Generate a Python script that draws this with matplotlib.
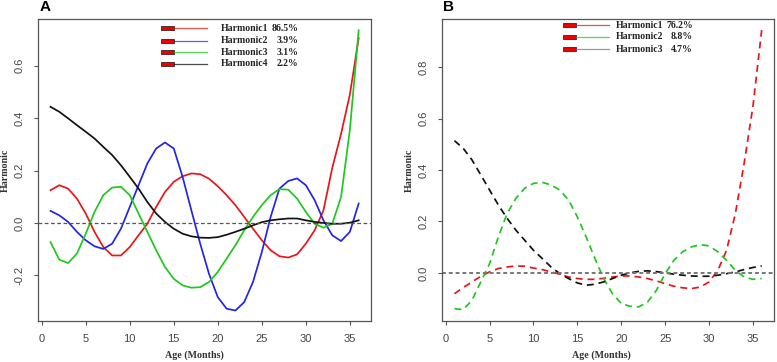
"""
Harmonic curves by age, two panels (A: solid, B: dashed).
Saves to out.png
"""

import numpy as np
import matplotlib.pyplot as plt
from matplotlib.lines import Line2D
from matplotlib.patches import Rectangle

# Data
months = list(range(1, 37))

a_h1 = [0.125, 0.144, 0.131, 0.093, 0.036, -0.034, -0.092, -0.124, -0.124, -0.092,
        -0.047, -0.003, 0.061, 0.118, 0.157, 0.178, 0.189, 0.186, 0.169, 0.140,
        0.106, 0.068, 0.023, -0.022, -0.066, -0.104, -0.127, -0.132, -0.120, -0.079,
        -0.028, 0.048, 0.210, 0.340, 0.490, 0.705]
a_h2 = [0.046, 0.029, 0.004, -0.034, -0.066, -0.089, -0.099, -0.079, -0.022, 0.061,
        0.144, 0.227, 0.284, 0.307, 0.284, 0.176, 0.048, -0.079, -0.194, -0.283,
        -0.327, -0.334, -0.302, -0.225, -0.111, 0.023, 0.131, 0.160, 0.170, 0.144,
        0.087, 0.010, -0.047, -0.069, -0.034, 0.074]
a_h3 = [-0.073, -0.140, -0.153, -0.117, -0.041, 0.042, 0.106, 0.135, 0.138, 0.106,
        0.036, -0.034, -0.104, -0.168, -0.213, -0.238, -0.247, -0.245, -0.225, -0.187,
        -0.136, -0.085, -0.028, 0.023, 0.068, 0.106, 0.129, 0.127, 0.093, 0.042,
        -0.003, -0.018, -0.003, 0.099, 0.355, 0.735]
a_h4 = [0.443, 0.424, 0.399, 0.373, 0.348, 0.322, 0.290, 0.259, 0.220, 0.176,
        0.131, 0.080, 0.036, 0.004, -0.022, -0.041, -0.051, -0.056, -0.057, -0.054,
        -0.045, -0.034, -0.022, -0.009, 0.003, 0.010, 0.014, 0.017, 0.017, 0.010,
        0.004, 0.000, -0.003, -0.003, 0.001, 0.010]

b_h1 = [-0.081, -0.057, -0.035, -0.013, 0.004, 0.017, 0.023, 0.027, 0.026, 0.019,
        0.013, 0.004, -0.005, -0.016, -0.022, -0.025, -0.025, -0.021, -0.016, -0.012,
        -0.012, -0.016, -0.022, -0.031, -0.042, -0.052, -0.058, -0.061, -0.055, -0.035,
        0.010, 0.088, 0.231, 0.426, 0.647, 0.944]
b_h2 = [-0.139, -0.143, -0.106, -0.035, 0.036, 0.140, 0.231, 0.290, 0.329, 0.348,
        0.352, 0.342, 0.322, 0.283, 0.218, 0.140, 0.056, -0.022, -0.081, -0.119,
        -0.130, -0.132, -0.113, -0.068, -0.003, 0.049, 0.082, 0.101, 0.110, 0.105,
        0.082, 0.049, 0.010, -0.016, -0.025, -0.022]
b_h3 = [0.514, 0.484, 0.439, 0.381, 0.322, 0.264, 0.212, 0.166, 0.127, 0.088,
        0.056, 0.023, -0.003, -0.022, -0.039, -0.048, -0.044, -0.035, -0.022, -0.009,
        0.000, 0.006, 0.008, 0.005, 0.000, -0.005, -0.009, -0.012, -0.013, -0.013,
        -0.009, -0.003, 0.004, 0.013, 0.021, 0.027]

a_names = ['Harmonic1', 'Harmonic2', 'Harmonic3', 'Harmonic4']
a_pcts = ['86.5%', '3.9%', '3.1%', '2.2%']
b_names = ['Harmonic1', 'Harmonic2', 'Harmonic3']
b_pcts = ['76.2%', '8.8%', '4.7%']

RED, BLUE, GREEN, BLACK = '#e8161b', '#2424e6', '#1ec81e', '#111111'

W, H = 777, 362
fig = plt.figure(figsize=(W / 100, H / 100), dpi=100)
serif = 'Liberation Serif'
sans = 'Liberation Sans'


def px_axes(left, top, right, bottom):
    return fig.add_axes([left / W, 1 - bottom / H, (right - left) / W, (bottom - top) / H])


def fpos(x, y):
    return x / W, 1 - y / H


def style_axes(ax, ylim, yticks, xlab_x):
    ax.set_xlim(-0.42, 37.4)
    ax.set_ylim(*ylim)
    ax.set_xticks([0, 5, 10, 15, 20, 25, 30, 35])
    ax.set_yticks(yticks)
    ax.set_yticklabels([f'{t:.1f}' for t in yticks], rotation=90, va='center')
    for s in ax.spines.values():
        s.set_color('#555555')
        s.set_linewidth(0.9)
    ax.tick_params(length=3.2, width=0.8, color='#555555', labelcolor='#444444',
                   labelsize=8, pad=6.3)
    for lab in ax.get_xticklabels() + ax.get_yticklabels():
        lab.set_family(sans)
    ax.set_xlabel('Age (Months)', family=serif, fontweight='bold', fontsize=7.2, color='#333333')
    ax.set_ylabel('Harmonic', family=serif, fontweight='bold', fontsize=7.2, color='#333333')
    ax.xaxis.set_label_coords(xlab_x, -0.098)
    ax.yaxis.set_label_coords(-0.085, 0.5)


def legend(x0, ys, colors, names, pcts, text_left, pct_right):
    for y, c, n, p in zip(ys, colors, names, pcts):
        fig.add_artist(Line2D([(x0 + 13) / W, (x0 + 46) / W], [1 - y / H] * 2,
                              color=c, lw=0.9, alpha=0.75, transform=fig.transFigure))
        fig.add_artist(Rectangle(fpos(x0, y + 2), 13 / W, 4 / H, facecolor='#ee0000',
                                 edgecolor='#402020', lw=0.6, transform=fig.transFigure))
        tx, ty = fpos(text_left, y)
        fig.text(tx, ty, n, family=serif, fontweight='bold', fontsize=7,
                 ha='left', va='center', color='#222222')
        rx, _ = fpos(pct_right, y)
        fig.text(rx, ty, p, family=serif, fontweight='bold', fontsize=7,
                 ha='right', va='center', color='#222222')


# Panel A
axA = px_axes(38, 19, 371, 321)
for vals, c in zip([a_h1, a_h2, a_h3, a_h4], [RED, BLUE, GREEN, BLACK]):
    axA.plot(months, vals, color=c, lw=1.25)
axA.axhline(0, color='#555555', lw=0.9, ls=(0, (3, 2)))
style_axes(axA, (-0.374, 0.778), [-0.2, 0.0, 0.2, 0.4, 0.6], 0.47)
legend(161, [28.3, 40.5, 52.2, 63.5], [RED, BLUE, GREEN, BLACK], a_names, a_pcts, 221, 298.5)

# Panel B
axB = px_axes(442, 19, 774, 321)
for vals, c in zip([b_h1, b_h2, b_h3], [RED, GREEN, BLACK]):
    axB.plot(months, vals, color=c, lw=1.25, ls=(0, (4, 2.8)))
axB.axhline(0, color='#777777', lw=1.4, ls=(0, (2, 1.5)))
style_axes(axB, (-0.187, 0.987), [0.0, 0.2, 0.4, 0.6, 0.8], 0.48)
legend(563, [25.0, 36.8, 49.0], [RED, GREEN, '#777777'], b_names, b_pcts, 616, 693)

fig.text(*fpos(40, 7), 'A', family=sans, fontweight='bold', fontsize=11, ha='left', va='center')
fig.text(*fpos(443, 7), 'B', family=sans, fontweight='bold', fontsize=11, ha='left', va='center')

fig.savefig('out.png', dpi=100)
